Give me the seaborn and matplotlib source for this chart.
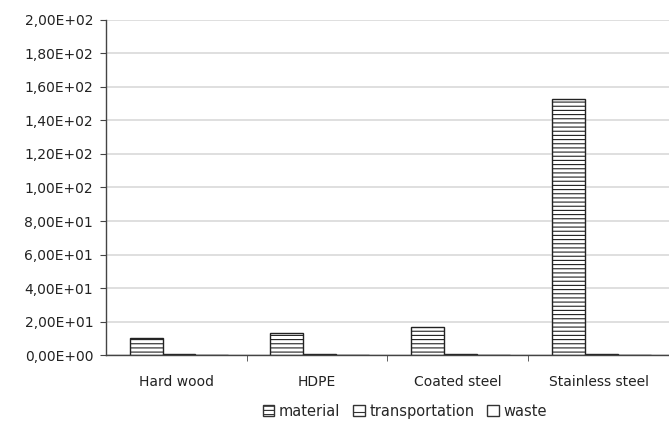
import pandas as pd
import matplotlib
matplotlib.use("Agg")
import matplotlib.pyplot as plt
import seaborn as sns
from matplotlib.patches import Patch
from matplotlib.ticker import FuncFormatter, FixedLocator

# Data
materials = ["Hard wood", "HDPE", "Coated steel", "Stainless steel"]
material = [10.0, 13.0, 16.7, 153.0]
transportation = [0.5, 0.5, 0.5, 0.6]
waste = [0.0, 0.0, 0.0, 0.0]
series = ["material", "transportation", "waste"]

df = pd.DataFrame({
    "Material": materials * 3,
    "Stage": ["material"] * 4 + ["transportation"] * 4 + ["waste"] * 4,
    "Value": material + transportation + waste,
})

sns.set_style("white")
plt.rcParams["font.family"] = ["DejaVu Sans"]
plt.rcParams["hatch.linewidth"] = 0.8

fig = plt.figure(figsize=(6.69, 4.32), dpi=100)
ax = fig.add_axes([0.158, 0.178, 0.842, 0.776])

# grouped bars, white fill with black outlines
sns.barplot(data=df, x="Material", y="Value", hue="Stage", order=materials,
            hue_order=series, color="white", edgecolor="#222222", linewidth=1.0,
            width=0.7, ax=ax, legend=False)

hatches = {"material": "----", "transportation": "--", "waste": ""}
for bars, name in zip(ax.containers, series):
    for b in bars:
        b.set_facecolor("white")
        b.set_hatch(hatches[name])
        b.set_x(b.get_x() + 0.02)

ax.set_ylim(0, 200)
ax.set_xlim(-0.5, 3.5)
ax.set_yticks(range(0, 201, 20))
ax.yaxis.set_major_formatter(FuncFormatter(lambda v, p: f"{v:.2E}".replace(".", ",")))
ax.yaxis.grid(True, color="#dcdcdc", linewidth=1.3)
ax.set_axisbelow(True)

# ticks between categories, none under the labels
ax.tick_params(axis="x", which="major", length=0, pad=14, labelsize=10, colors="#222222")
ax.xaxis.set_minor_locator(FixedLocator([0.5, 1.5, 2.5]))
ax.tick_params(axis="x", which="minor", length=4, direction="out", color="#444444", bottom=True)
ax.tick_params(axis="y", length=4, direction="out", color="#444444", labelsize=10,
               labelcolor="#222222", left=True, pad=5)

for s in ["top", "right"]:
    ax.spines[s].set_visible(False)
for s in ["left", "bottom"]:
    ax.spines[s].set_color("#444444")
    ax.spines[s].set_linewidth(1.0)

ax.set_xlabel("")
ax.set_ylabel("")

handles = [Patch(facecolor="white", edgecolor="#333333", hatch=hatches[s], label=s) for s in series]
fig.legend(handles=handles, loc="lower center", bbox_to_anchor=(0.605, 0.0), ncol=3,
           frameon=False, fontsize=10.5, handlelength=0.8, handleheight=0.8,
           handletextpad=0.3, columnspacing=0.9)

fig.savefig("out.png", dpi=100)
